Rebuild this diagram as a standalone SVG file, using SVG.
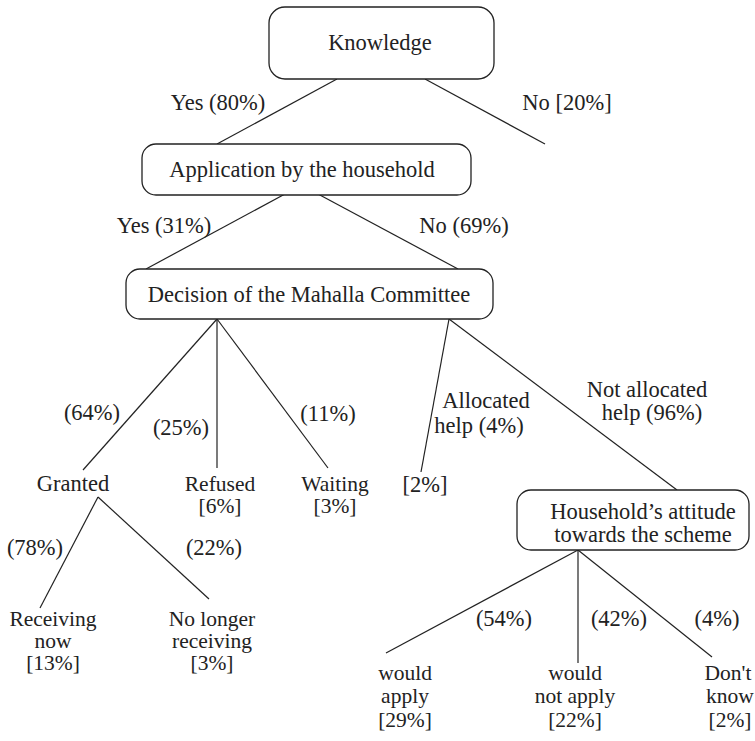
<svg xmlns="http://www.w3.org/2000/svg" width="755" height="741" viewBox="0 0 755 741">
<style>
text{font-family:'Liberation Serif','Times New Roman',serif;font-size:22.5px;fill:#222;text-anchor:middle}
.m text{font-size:21.5px}
.box{fill:#fff;stroke:#222;stroke-width:1.3}
.c line{stroke:#222;stroke-width:1.2}
</style>
<rect width="755" height="741" fill="#fff"/>
<g class="c" id="connectors">
<line x1="337" y1="79" x2="217" y2="144"/>
<line x1="425" y1="79" x2="545" y2="144"/>
<line x1="285" y1="194" x2="146" y2="269"/>
<line x1="318" y1="194" x2="458" y2="269"/>
<line x1="217" y1="319" x2="83" y2="470"/>
<line x1="217" y1="319" x2="217" y2="468"/>
<line x1="217" y1="319" x2="328" y2="468"/>
<line x1="449" y1="319" x2="421" y2="472"/>
<line x1="449" y1="319" x2="677" y2="490"/>
<line x1="98" y1="497" x2="40" y2="608"/>
<line x1="98" y1="497" x2="209" y2="599"/>
<line x1="578" y1="550" x2="386" y2="653"/>
<line x1="578" y1="550" x2="578" y2="663"/>
<line x1="578" y1="550" x2="712" y2="657"/>
</g>
<g id="knowledge"><rect class="box" x="269" y="7" width="225" height="72" rx="16"/><text x="380" y="50">Knowledge</text></g>
<g id="application"><rect class="box" x="142" y="144" width="329" height="51" rx="14"/><text x="302" y="177">Application by the household</text></g>
<g id="decision"><rect class="box" x="126" y="269" width="367" height="50" rx="14"/><text x="309" y="302">Decision of the Mahalla Committee</text></g>
<g id="attitude"><rect class="box" x="517" y="490" width="232" height="60" rx="14"/><text x="643" y="519">Household’s attitude</text><text x="643" y="542">towards the scheme</text></g>
<g id="labels">
<text x="218" y="110">Yes (80%)</text>
<text x="567" y="110">No [20%]</text>
<text x="164" y="233">Yes (31%)</text>
<text x="464" y="233">No (69%)</text>
<text x="92" y="420">(64%)</text>
<text x="181" y="435">(25%)</text>
<text x="328" y="421">(11%)</text>
<text x="486" y="408">Allocated</text>
<text x="479" y="433">help (4%)</text>
<text x="647" y="397">Not allocated</text>
<text x="652" y="420">help (96%)</text>
<text x="35" y="555">(78%)</text>
<text x="214" y="555">(22%)</text>
<text x="504" y="626">(54%)</text>
<text x="619" y="626">(42%)</text>
<text x="717" y="626">(4%)</text>
</g>
<g id="granted"><text x="73" y="491">Granted</text></g>
<g id="refused" class="m"><text x="220" y="491">Refused</text><text x="220" y="513">[6%]</text></g>
<g id="waiting" class="m"><text x="335" y="491">Waiting</text><text x="335" y="513">[3%]</text></g>
<g id="allocated"><text x="425" y="492">[2%]</text></g>
<g id="receiving" class="m"><text x="53" y="626">Receiving</text><text x="53" y="648">now</text><text x="53" y="670">[13%]</text></g>
<g id="nolonger" class="m"><text x="212" y="626">No longer</text><text x="212" y="648">receiving</text><text x="212" y="670">[3%]</text></g>
<g id="wouldapply" class="m"><text x="405" y="680">would</text><text x="405" y="703">apply</text><text x="405" y="727">[29%]</text></g>
<g id="wouldnot" class="m"><text x="575" y="680">would</text><text x="575" y="703">not apply</text><text x="575" y="727">[22%]</text></g>
<g id="dontknow" class="m"><text x="728" y="680">Don't</text><text x="730" y="703">know</text><text x="730" y="727">[2%]</text></g>
</svg>
